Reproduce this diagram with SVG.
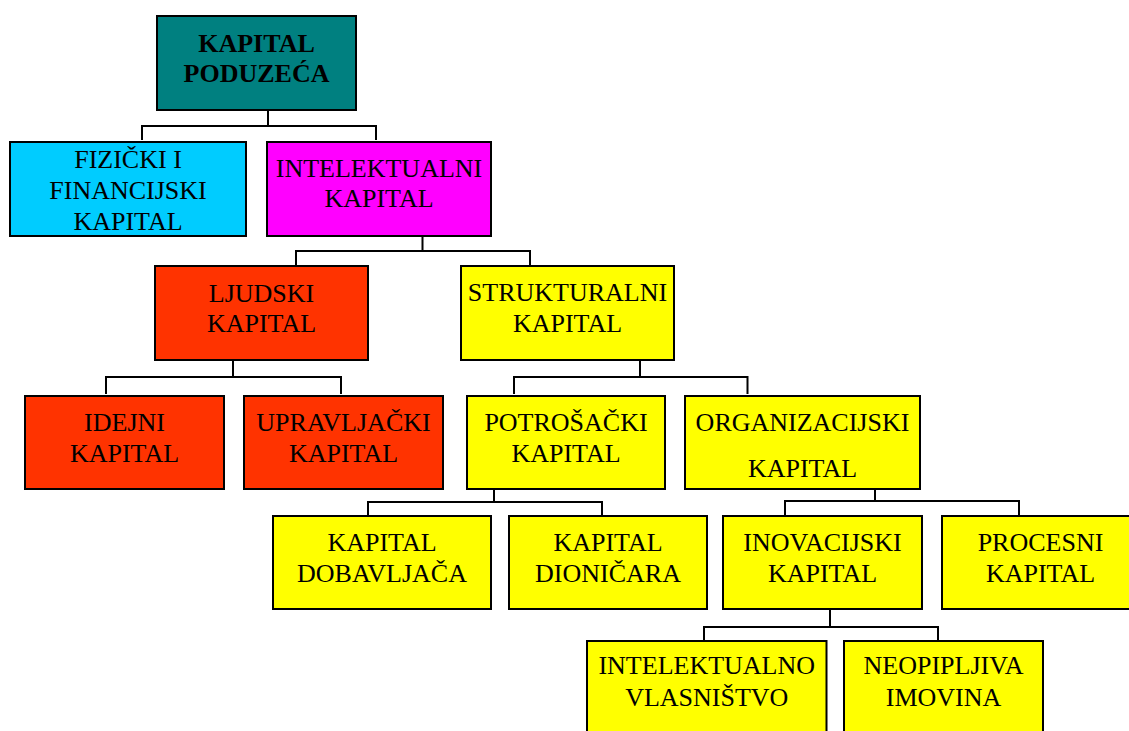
<svg xmlns="http://www.w3.org/2000/svg" width="1129" height="731" viewBox="0 0 1129 731">
<style>
rect{stroke:#000;stroke-width:2}
text{font-family:"Liberation Serif","Times New Roman",serif;font-size:26px;fill:#000;text-anchor:middle}
.b{font-weight:bold}
.teal{fill:#008080}.cyan{fill:#00CCFF}.mag{fill:#FF00FF}.red{fill:#FF3300}.yel{fill:#FFFF00}
#connectors path{fill:none;stroke:#000;stroke-width:2}
</style>
<rect x="0" y="0" width="1129" height="731" fill="#fff" style="stroke:none"/>
<g id="connectors">
<path d="M268 110V126M142 140V126H376V140"/>
<path d="M422.5 236V251M296 266V251H530V266"/>
<path d="M233 360V377M106 394V377H341V394"/>
<path d="M640 360V377M514 394V377H747.5V394"/>
<path d="M494 489V502M368 515V502H602V515"/>
<path d="M875 489V501M785 515V501H1019V515"/>
<path d="M830 609V627M704 640V627H938V640"/>
</g>
<g id="n-root"><rect class="teal" x="157" y="16" width="199" height="94"/><text class="b" x="256.5" y="52">KAPITAL</text><text class="b" x="256.5" y="82">PODUZEĆA</text></g>
<g id="n-fizicki"><rect class="cyan" x="10" y="142" width="236" height="94"/><text x="128" y="168">FIZIČKI I</text><text x="128" y="199">FINANCIJSKI</text><text x="128" y="230">KAPITAL</text></g>
<g id="n-intelektualni"><rect class="mag" x="267" y="142" width="224" height="94"/><text x="379" y="177">INTELEKTUALNI</text><text x="379" y="207">KAPITAL</text></g>
<g id="n-ljudski"><rect class="red" x="155" y="266" width="213" height="94"/><text x="261.5" y="302">LJUDSKI</text><text x="261.5" y="332">KAPITAL</text></g>
<g id="n-strukturalni"><rect class="yel" x="461" y="266" width="213" height="94"/><text x="567.5" y="301">STRUKTURALNI</text><text x="567.5" y="332">KAPITAL</text></g>
<g id="n-idejni"><rect class="red" x="25" y="396" width="199" height="93"/><text x="124.5" y="431">IDEJNI</text><text x="124.5" y="462">KAPITAL</text></g>
<g id="n-upravljacki"><rect class="red" x="244" y="396" width="199" height="93"/><text x="343.5" y="431">UPRAVLJAČKI</text><text x="343.5" y="462">KAPITAL</text></g>
<g id="n-potrosacki"><rect class="yel" x="467" y="396" width="198" height="93"/><text x="566" y="431">POTROŠAČKI</text><text x="566" y="462">KAPITAL</text></g>
<g id="n-organizacijski"><rect class="yel" x="685" y="396" width="235" height="93"/><text x="802.5" y="431">ORGANIZACIJSKI</text><text x="802.5" y="477">KAPITAL</text></g>
<g id="n-dobavljaca"><rect class="yel" x="273" y="516" width="218" height="93"/><text x="382" y="551">KAPITAL</text><text x="382" y="582">DOBAVLJAČA</text></g>
<g id="n-dionicara"><rect class="yel" x="509" y="516" width="198" height="93"/><text x="608" y="551">KAPITAL</text><text x="608" y="582">DIONIČARA</text></g>
<g id="n-inovacijski"><rect class="yel" x="723" y="516" width="199" height="93"/><text x="822.5" y="551">INOVACIJSKI</text><text x="822.5" y="582">KAPITAL</text></g>
<g id="n-procesni"><rect class="yel" x="942" y="516" width="197" height="93"/><text x="1040.5" y="551">PROCESNI</text><text x="1040.5" y="582">KAPITAL</text></g>
<g id="n-intelektualno"><rect class="yel" x="587" y="641" width="239.5" height="100"/><text x="706.75" y="674">INTELEKTUALNO</text><text x="706.75" y="706">VLASNIŠTVO</text></g>
<g id="n-neopipljiva"><rect class="yel" x="844" y="641" width="199" height="100"/><text x="943.5" y="674">NEOPIPLJIVA</text><text x="943.5" y="706">IMOVINA</text></g>
</svg>
